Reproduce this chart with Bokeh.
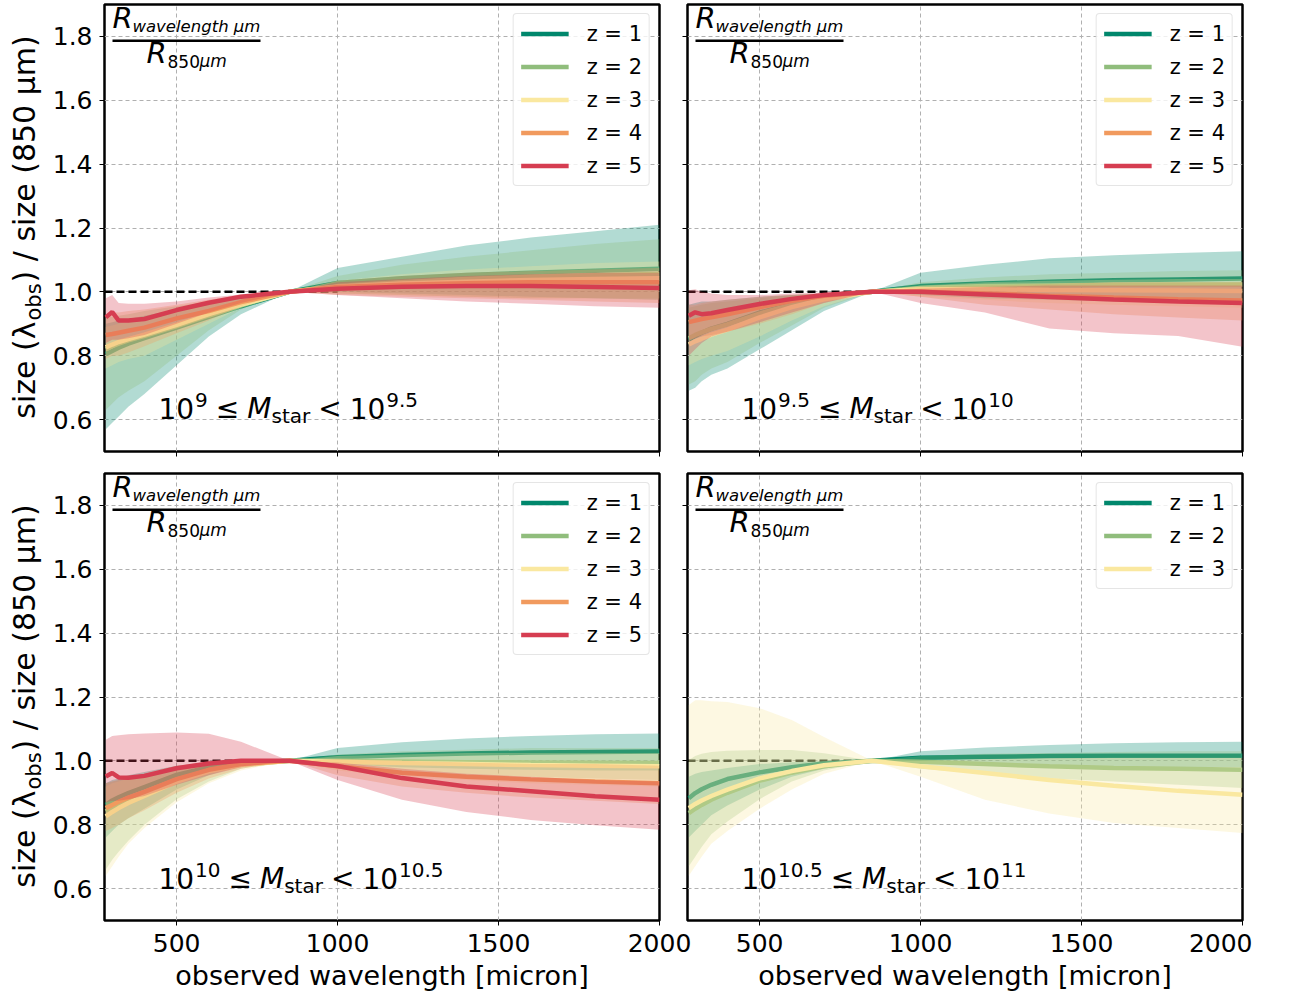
import math
from bokeh.plotting import figure
from bokeh.models import (Range1d, FixedTicker, PrintfTickFormatter, CustomJSTickFormatter,
                          Label, BoxAnnotation)
from bokeh.layouts import column, row
from bokeh.embed import file_html
from bokeh.resources import INLINE

# ---------------- data ----------------
WL = [280, 300, 320, 350, 400, 500, 600, 700, 850, 1000, 1200, 1400, 1600, 1800, 2000]
Z_LABELS = ["z = 1", "z = 2", "z = 3", "z = 4", "z = 5"]
Z_COLORS = ["#00876c", "#90bd7c", "#fae8a0", "#f19a5e", "#d63d51"]
X_TICKS = [500, 1000, 1500, 2000]
Y_TICKS = [0.6, 0.8, 1.0, 1.2, 1.4, 1.6, 1.8]
X_LIMITS = [276, 2000]
Y_LIMITS = [0.5, 1.9]
REF_X = [276, 1000]
REF_Y = [1.0, 1.0]
MASS_EXP = [("9", "9.5"), ("9.5", "10"), ("10", "10.5"), ("10.5", "11")]
X_TITLE = "observed wavelength [micron]"

# top-left: 1e9 <= M < 1e9.5
TL_Z1 = [0.805, 0.815, 0.825, 0.838, 0.855, 0.888, 0.922, 0.955, 1.0, 1.028, 1.043, 1.053, 1.060, 1.066, 1.072]
TL_Z1_LO = [0.57, 0.59, 0.61, 0.64, 0.68, 0.77, 0.86, 0.93, 1.0, 1.0, 0.995, 0.99, 0.985, 0.98, 0.975]
TL_Z1_HI = [0.90, 0.905, 0.91, 0.915, 0.925, 0.945, 0.965, 0.985, 1.0, 1.075, 1.11, 1.145, 1.17, 1.19, 1.21]
TL_Z2 = [0.82, 0.83, 0.838, 0.848, 0.862, 0.893, 0.926, 0.958, 1.0, 1.018, 1.03, 1.04, 1.047, 1.052, 1.056]
TL_Z2_LO = [0.63, 0.65, 0.67, 0.69, 0.72, 0.80, 0.88, 0.945, 1.0, 0.995, 0.99, 0.985, 0.98, 0.98, 0.98]
TL_Z2_HI = [0.92, 0.922, 0.925, 0.93, 0.94, 0.955, 0.97, 0.988, 1.0, 1.05, 1.085, 1.11, 1.13, 1.15, 1.165]
TL_Z3 = [0.826, 0.835, 0.843, 0.852, 0.866, 0.897, 0.93, 0.96, 1.0, 1.016, 1.026, 1.032, 1.037, 1.04, 1.043]
TL_Z3_LO = [0.76, 0.77, 0.78, 0.79, 0.80, 0.85, 0.90, 0.95, 1.0, 0.995, 0.99, 0.985, 0.98, 0.98, 0.975]
TL_Z3_HI = [0.89, 0.895, 0.90, 0.91, 0.92, 0.94, 0.96, 0.98, 1.0, 1.035, 1.055, 1.07, 1.08, 1.09, 1.095]
TL_Z4 = [0.865, 0.868, 0.872, 0.878, 0.888, 0.917, 0.94, 0.968, 1.0, 1.015, 1.022, 1.027, 1.03, 1.03, 1.03]
TL_Z4_LO = [0.79, 0.80, 0.80, 0.81, 0.83, 0.87, 0.91, 0.955, 1.0, 0.99, 0.985, 0.98, 0.975, 0.97, 0.965]
TL_Z4_HI = [0.93, 0.935, 0.935, 0.94, 0.945, 0.96, 0.975, 0.99, 1.0, 1.035, 1.05, 1.06, 1.065, 1.07, 1.075]
TL_Z5 = [0.92, 0.937, 0.91, 0.91, 0.915, 0.943, 0.966, 0.985, 1.0, 1.01, 1.016, 1.018, 1.018, 1.015, 1.012]
TL_Z5_LO = [0.84, 0.85, 0.85, 0.855, 0.865, 0.90, 0.935, 0.965, 1.0, 0.99, 0.98, 0.97, 0.963, 0.955, 0.95]
TL_Z5_HI = [0.98, 0.99, 0.965, 0.963, 0.963, 0.97, 0.982, 0.992, 1.0, 1.03, 1.04, 1.05, 1.055, 1.06, 1.06]

# top-right: 1e9.5 <= M < 1e10
TR_Z1 = [0.85, 0.862, 0.872, 0.885, 0.90, 0.935, 0.962, 0.983, 1.0, 1.018, 1.026, 1.032, 1.036, 1.039, 1.042]
TR_Z1_LO = [0.69, 0.70, 0.72, 0.74, 0.76, 0.82, 0.88, 0.94, 1.0, 0.99, 0.98, 0.975, 0.97, 0.965, 0.96]
TR_Z1_HI = [0.96, 0.965, 0.97, 0.97, 0.975, 0.985, 0.99, 0.995, 1.0, 1.06, 1.085, 1.105, 1.115, 1.122, 1.127]
TR_Z2 = [0.855, 0.865, 0.873, 0.884, 0.898, 0.932, 0.96, 0.982, 1.0, 1.012, 1.018, 1.02, 1.022, 1.023, 1.023]
TR_Z2_LO = [0.71, 0.72, 0.74, 0.76, 0.78, 0.84, 0.895, 0.95, 1.0, 0.995, 0.985, 0.98, 0.975, 0.97, 0.97]
TR_Z2_HI = [0.95, 0.955, 0.96, 0.965, 0.97, 0.98, 0.99, 0.995, 1.0, 1.03, 1.045, 1.055, 1.06, 1.065, 1.068]
TR_Z3 = [0.835, 0.845, 0.853, 0.866, 0.882, 0.92, 0.952, 0.977, 1.0, 1.008, 1.008, 1.006, 1.005, 1.004, 1.003]
TR_Z3_LO = [0.77, 0.78, 0.79, 0.80, 0.815, 0.86, 0.91, 0.955, 1.0, 0.985, 0.975, 0.965, 0.96, 0.955, 0.95]
TR_Z3_HI = [0.90, 0.905, 0.91, 0.92, 0.93, 0.955, 0.975, 0.99, 1.0, 1.02, 1.03, 1.035, 1.038, 1.04, 1.04]
TR_Z4 = [0.905, 0.91, 0.915, 0.92, 0.93, 0.952, 0.972, 0.988, 1.0, 1.0, 0.995, 0.988, 0.982, 0.977, 0.973]
TR_Z4_LO = [0.85, 0.855, 0.86, 0.865, 0.875, 0.90, 0.93, 0.965, 1.0, 0.985, 0.96, 0.945, 0.93, 0.92, 0.91]
TR_Z4_HI = [0.96, 0.96, 0.965, 0.97, 0.975, 0.985, 0.99, 0.995, 1.0, 1.015, 1.02, 1.025, 1.03, 1.03, 1.03]
TR_Z5 = [0.925, 0.936, 0.93, 0.933, 0.943, 0.962, 0.978, 0.99, 1.0, 1.0, 0.992, 0.984, 0.976, 0.97, 0.965]
TR_Z5_LO = [0.80, 0.82, 0.84, 0.86, 0.875, 0.905, 0.935, 0.965, 1.0, 0.965, 0.935, 0.885, 0.87, 0.862, 0.828]
TR_Z5_HI = [1.005, 1.008, 1.0, 0.995, 0.99, 0.99, 0.995, 0.998, 1.0, 1.01, 1.015, 1.02, 1.02, 1.02, 1.02]

# bottom-left: 1e10 <= M < 1e10.5
BL_Z1 = [0.8625, 0.876, 0.886, 0.899, 0.918, 0.956, 0.98, 0.993, 1.0, 1.011, 1.018, 1.023, 1.026, 1.028, 1.029]
BL_Z1_LO = [0.76, 0.78, 0.80, 0.82, 0.85, 0.91, 0.955, 0.985, 1.0, 0.99, 0.98, 0.975, 0.972, 0.97, 0.97]
BL_Z1_HI = [0.93, 0.94, 0.945, 0.955, 0.965, 0.985, 0.995, 1.0, 1.0, 1.04, 1.058, 1.07, 1.078, 1.083, 1.086]
BL_Z2 = [0.842, 0.855, 0.865, 0.878, 0.898, 0.94, 0.97, 0.988, 1.0, 1.0, 0.998, 0.996, 0.995, 0.994, 0.993]
BL_Z2_LO = [0.66, 0.69, 0.715, 0.75, 0.80, 0.88, 0.935, 0.975, 1.0, 0.975, 0.96, 0.955, 0.95, 0.945, 0.94]
BL_Z2_HI = [0.93, 0.935, 0.94, 0.95, 0.96, 0.98, 0.99, 0.997, 1.0, 1.02, 1.03, 1.035, 1.04, 1.04, 1.04]
BL_Z3 = [0.826, 0.84, 0.852, 0.868, 0.89, 0.935, 0.967, 0.987, 1.0, 0.997, 0.993, 0.99, 0.987, 0.985, 0.983]
BL_Z3_LO = [0.64, 0.67, 0.70, 0.74, 0.79, 0.87, 0.93, 0.97, 1.0, 0.97, 0.95, 0.94, 0.93, 0.925, 0.92]
BL_Z3_HI = [0.92, 0.93, 0.935, 0.945, 0.955, 0.975, 0.99, 0.997, 1.0, 1.015, 1.02, 1.025, 1.025, 1.025, 1.025]
BL_Z4 = [0.852, 0.862, 0.872, 0.885, 0.903, 0.943, 0.972, 0.99, 1.0, 0.983, 0.963, 0.95, 0.942, 0.935, 0.93]
BL_Z4_LO = [0.78, 0.79, 0.80, 0.82, 0.845, 0.90, 0.945, 0.975, 1.0, 0.955, 0.92, 0.90, 0.885, 0.875, 0.865]
BL_Z4_HI = [0.93, 0.935, 0.94, 0.95, 0.96, 0.985, 0.997, 1.002, 1.0, 1.005, 1.0, 0.995, 0.99, 0.99, 0.985]
BL_Z5 = [0.951, 0.962, 0.948, 0.947, 0.953, 0.977, 0.992, 1.0, 1.0, 0.984, 0.946, 0.92, 0.905, 0.889, 0.878]
BL_Z5_LO = [0.87, 0.875, 0.875, 0.88, 0.89, 0.925, 0.955, 0.98, 1.0, 0.94, 0.878, 0.84, 0.815, 0.798, 0.784]
BL_Z5_HI = [1.066, 1.078, 1.08, 1.083, 1.086, 1.089, 1.085, 1.06, 1.0, 0.995, 0.975, 0.96, 0.95, 0.94, 0.935]

# bottom-right: 1e10.5 <= M < 1e11
BR_Z1 = [0.883, 0.899, 0.911, 0.925, 0.943, 0.964, 0.98, 0.992, 1.0, 1.01, 1.013, 1.015, 1.016, 1.016, 1.016]
BR_Z1_LO = [0.76, 0.78, 0.80, 0.83, 0.86, 0.91, 0.95, 0.975, 1.0, 0.995, 0.99, 0.985, 0.982, 0.98, 0.98]
BR_Z1_HI = [0.95, 0.96, 0.965, 0.97, 0.978, 0.99, 0.996, 1.0, 1.0, 1.03, 1.042, 1.05, 1.055, 1.058, 1.06]
BR_Z2 = [0.836, 0.85, 0.862, 0.878, 0.90, 0.938, 0.963, 0.983, 1.0, 0.997, 0.99, 0.983, 0.978, 0.975, 0.972]
BR_Z2_LO = [0.67, 0.70, 0.73, 0.77, 0.81, 0.88, 0.935, 0.97, 1.0, 0.975, 0.96, 0.945, 0.935, 0.925, 0.915]
BR_Z2_HI = [1.003, 1.015, 1.022, 1.028, 1.032, 1.034, 1.034, 1.024, 1.0, 1.015, 1.022, 1.025, 1.028, 1.03, 1.03]
BR_Z3 = [0.852, 0.865, 0.876, 0.89, 0.91, 0.945, 0.968, 0.986, 1.0, 0.983, 0.962, 0.94, 0.922, 0.906, 0.894]
BR_Z3_LO = [0.64, 0.67, 0.70, 0.74, 0.78, 0.85, 0.91, 0.96, 1.0, 0.95, 0.878, 0.835, 0.805, 0.79, 0.774]
BR_Z3_HI = [1.175, 1.19, 1.19, 1.187, 1.184, 1.165, 1.128, 1.075, 1.0, 1.0, 1.005, 1.008, 1.01, 1.01, 1.01]

PANELS = [
    [(TL_Z1, TL_Z1_LO, TL_Z1_HI), (TL_Z2, TL_Z2_LO, TL_Z2_HI), (TL_Z3, TL_Z3_LO, TL_Z3_HI),
     (TL_Z4, TL_Z4_LO, TL_Z4_HI), (TL_Z5, TL_Z5_LO, TL_Z5_HI)],
    [(TR_Z1, TR_Z1_LO, TR_Z1_HI), (TR_Z2, TR_Z2_LO, TR_Z2_HI), (TR_Z3, TR_Z3_LO, TR_Z3_HI),
     (TR_Z4, TR_Z4_LO, TR_Z4_HI), (TR_Z5, TR_Z5_LO, TR_Z5_HI)],
    [(BL_Z1, BL_Z1_LO, BL_Z1_HI), (BL_Z2, BL_Z2_LO, BL_Z2_HI), (BL_Z3, BL_Z3_LO, BL_Z3_HI),
     (BL_Z4, BL_Z4_LO, BL_Z4_HI), (BL_Z5, BL_Z5_LO, BL_Z5_HI)],
    [(BR_Z1, BR_Z1_LO, BR_Z1_HI), (BR_Z2, BR_Z2_LO, BR_Z2_HI), (BR_Z3, BR_Z3_LO, BR_Z3_HI)],
]

# ---------------- style ----------------
FONT = "DejaVu Sans"
FW, FH = 555, 447
LAB_W = 48
TOP_B = 4
MID_B = 18
BOT_B = 68
EM = {"0": .636, "1": .636, "5": .636, "9": .636, ".": .318}
BASE_FIX = 0.37  # Bokeh draws alphabetic-baseline labels this many em lower


def txt(p, x, y, text, size, style="normal", rotated=False):
    if rotated:
        x, y, angle = x - BASE_FIX * size, y, math.pi / 2
    else:
        x, y, angle = x, y + BASE_FIX * size, 0.0
    p.add_layout(Label(x=x, y=y, x_units="screen", y_units="screen", text=text,
                       text_font=FONT, text_font_size=f"{size}px", text_font_style=style,
                       text_color="black", text_align="left", text_baseline="alphabetic",
                       angle=angle, angle_units="rad"))


def width(s, size):
    return sum(EM[c] for c in s) * size


def make_ylabel_fig(bottom_row):
    p = figure(frame_width=LAB_W, frame_height=FH, x_range=Range1d(0, 1), y_range=Range1d(0, 1),
               x_axis_type=None, y_axis_type=None, output_backend="svg", toolbar_location=None,
               min_border_left=0, min_border_right=0, min_border_top=TOP_B,
               min_border_bottom=BOT_B if bottom_row else MID_B)
    p.outline_line_color = None
    p.border_fill_alpha = 0
    p.background_fill_alpha = 0
    y0 = FH / 2 - 190.7
    txt(p, 35, y0, "size (λ", 30, rotated=True)
    txt(p, 41, y0 + 98.2, "obs", 21, rotated=True)
    txt(p, 35, y0 + 136.3, ") / size (850 µm)", 30, rotated=True)
    return p


def make_panel(idx, left_col, bottom_row):
    kw = dict(frame_width=FW, frame_height=FH,
              x_range=Range1d(*X_LIMITS), y_range=Range1d(*Y_LIMITS),
              output_backend="svg", toolbar_location=None,
              min_border_top=TOP_B, min_border_bottom=BOT_B if bottom_row else MID_B)
    if left_col:
        kw.update(min_border_left=104 - LAB_W, min_border_right=38)
    else:
        kw.update(min_border_left=10, min_border_right=10)
    p = figure(**kw)
    if not left_col:
        p.margin = (0, 0, 0, -20)
        p.border_fill_alpha = 0
        p.background_fill_alpha = 0
    p.outline_line_color = "black"
    p.outline_line_width = 2.5
    p.xaxis.ticker = FixedTicker(ticks=X_TICKS)
    p.yaxis.ticker = FixedTicker(ticks=Y_TICKS)
    for ax in p.axis:
        ax.axis_line_color = None
        ax.major_tick_out = 5
        ax.major_tick_in = 0
        ax.minor_tick_out = 0
        ax.minor_tick_in = 0
        ax.major_tick_line_color = "black"
        ax.major_tick_line_width = 1
        ax.major_label_text_font = FONT
        ax.major_label_text_font_size = "25px"
        ax.major_label_text_color = "black"
    p.yaxis.major_label_standoff = 7
    p.xaxis.major_label_standoff = 8
    if left_col:
        p.yaxis.formatter = PrintfTickFormatter(format="%.1f")
    else:
        p.yaxis.formatter = CustomJSTickFormatter(code="return ''")
        p.yaxis.major_label_text_font_size = "0px"
        p.yaxis.major_label_standoff = 0
    if bottom_row:
        p.xaxis.axis_label = X_TITLE
        p.xaxis.axis_label_text_font = FONT
        p.xaxis.axis_label_text_font_size = "27px"
        p.xaxis.axis_label_text_font_style = "normal"
        p.xaxis.axis_label_text_color = "black"
        p.xaxis.axis_label_standoff = 5
    else:
        p.xaxis.formatter = CustomJSTickFormatter(code="return ''")
        p.xaxis.major_label_text_font_size = "0px"
        p.xaxis.major_label_standoff = 0
    p.grid.grid_line_color = "#b0b0b0"
    p.grid.grid_line_dash = "4 3"
    p.grid.grid_line_width = 1

    # reference line at unity
    p.line(REF_X, REF_Y, line_color="black", line_width=2.5, line_dash="8 4")

    for k, (med, lo, hi) in enumerate(PANELS[idx]):
        p.varea(x=WL, y1=lo, y2=hi, fill_color=Z_COLORS[k], fill_alpha=0.3)
        p.line(WL, med, line_color=Z_COLORS[k], line_width=4.5, legend_label=Z_LABELS[k])

    lg = p.legend[0]
    lg.location = "top_right"
    lg.margin = 9
    lg.padding = 7
    lg.spacing = 8
    lg.glyph_width = 48
    lg.glyph_height = 25
    lg.label_height = 25
    lg.label_standoff = 18
    lg.label_text_font = FONT
    lg.label_text_font_size = "21px"
    lg.label_text_color = "black"
    lg.border_line_color = "#cccccc"
    lg.border_line_width = 1
    lg.background_fill_alpha = 0.8
    if "border_radius" in lg.properties():
        lg.border_radius = 4

    # fraction label R_wavelength / R_850
    txt(p, 8, FH - 24, "R", 29, "italic")
    txt(p, 28, FH - 28, "wavelength µm", 16.5, "italic")
    p.add_layout(BoxAnnotation(left=8, right=156, top=FH - 35, bottom=FH - 37.5,
                               left_units="screen", right_units="screen",
                               top_units="screen", bottom_units="screen",
                               fill_color="black", fill_alpha=1, line_color=None))
    txt(p, 42, FH - 59, "R", 29, "italic")
    txt(p, 63, FH - 63, "850", 17)
    txt(p, 95, FH - 63, "µm", 17, "italic")

    # mass-bin label
    lo_e, hi_e = MASS_EXP[idx]
    base = 33 if not bottom_row else 32
    big, small, gap = 28, 20, 8
    x = 54
    txt(p, x, base, "10", big); x += width("10", big)
    txt(p, x + 1, base + 11, lo_e, small); x += 1 + width(lo_e, small) + gap
    txt(p, x, base, "≤", big); x += 0.838 * big + gap
    txt(p, x, base, "M", big, "italic"); x += 0.863 * big
    txt(p, x, base - 5, "star", small); x += 1.937 * small + gap
    txt(p, x, base, "<", big); x += 0.838 * big + gap
    txt(p, x, base, "10", big); x += width("10", big)
    txt(p, x + 1, base + 11, hi_e, small)
    return p


lab_top = make_ylabel_fig(False)
lab_bot = make_ylabel_fig(True)
p_tl = make_panel(0, True, False)
p_tr = make_panel(1, False, False)
p_bl = make_panel(2, True, True)
p_br = make_panel(3, False, True)

layout = column(row(lab_top, p_tl, p_tr), row(lab_bot, p_bl, p_br))
open("out.html", "w").write(file_html(layout, INLINE))
